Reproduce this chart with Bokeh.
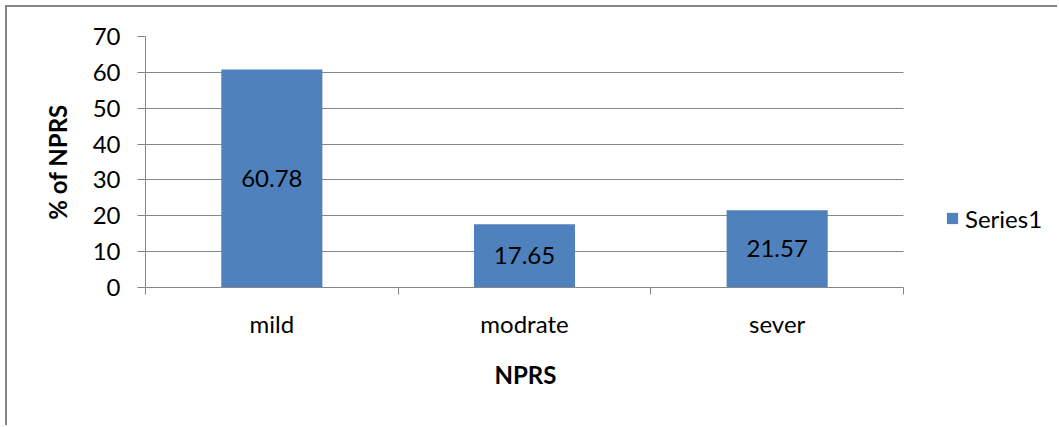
from bokeh.plotting import figure
from bokeh.models import (Range1d, FixedTicker, Legend, LegendItem,
                          ColumnDataSource, LabelSet, Title)
from bokeh.core.properties import value
from bokeh.embed import file_html
from bokeh.resources import INLINE

# ---- data ----
categories = ["mild", "modrate", "sever"]
percent = [60.78, 17.65, 21.57]
y_ticks = [0, 10, 20, 30, 40, 50, 60, 70]
series_name = "Series1"
x_title = "NPRS"
y_title = "% of NPRS"

FONT = "Lato"
GRAY = "#868686"
BAR = "#4F81BD"
FS = "24px"

# layout (pixels): plot area 758 px wide, extra room on its right for legend
AREA_W = 758
FIG_W, FIG_H = 1052, 420
LEFT, TOP, BOTTOM = 138, 29, 140
FRAME_W = FIG_W - LEFT

n = len(categories)
centers = [i + 0.5 for i in range(n)]
src = ColumnDataSource(dict(
    x=centers,
    top=percent,
    mid=[v / 2 for v in percent],
    label=[f"{v:.2f}" for v in percent],
))

x_end = n * FRAME_W / AREA_W
p = figure(width=FIG_W, height=FIG_H, output_backend="svg", toolbar_location=None,
           x_range=Range1d(0, x_end), y_range=Range1d(0, y_ticks[-1]),
           min_border_left=LEFT, min_border_right=0,
           min_border_top=TOP, min_border_bottom=BOTTOM)
p.outline_line_color = None
p.styles = {"margin-left": "5px", "margin-top": "5px",
            "border-left": "2px solid #868686", "border-top": "2px solid #868686"}

r = p.vbar(x="x", top="top", width=0.4, source=src,
           fill_color=BAR, line_color=None)

labels = LabelSet(x="x", y="mid", text="label", source=src,
                  text_align="center", text_baseline="middle",
                  text_font=value(FONT), text_font_size=FS,
                  text_color="black")
p.add_layout(labels)

# grid
p.xgrid.grid_line_color = None
p.ygrid.grid_line_color = GRAY
p.ygrid.grid_line_width = 1
p.ygrid.ticker = FixedTicker(ticks=y_ticks)
p.ygrid.cross_bounds = (0, n)

# y axis
ya = p.yaxis[0]
ya.ticker = FixedTicker(ticks=y_ticks)
ya.axis_line_color = GRAY
ya.major_tick_line_color = GRAY
ya.major_tick_out = 8
ya.major_tick_in = 0
ya.minor_tick_line_color = None
ya.major_label_text_font = FONT
ya.major_label_text_font_size = FS
ya.major_label_text_color = "black"
ya.major_label_standoff = 17
ya.axis_label = y_title
ya.axis_label_text_font = FONT
ya.axis_label_text_font_size = FS
ya.axis_label_text_font_style = "bold"
ya.axis_label_text_color = "black"
ya.axis_label_standoff = 18

# x axis: labels at category centers, boundary ticks as minor ticks
xa = p.xaxis[0]
xa.bounds = (0, n)
xa.ticker = FixedTicker(ticks=centers, minor_ticks=list(range(n + 1)))
xa.major_label_overrides = {c: lab for c, lab in zip(centers, categories)}
xa.axis_line_color = GRAY
xa.major_tick_line_color = None
xa.major_tick_out = 7
xa.major_tick_in = 0
xa.minor_tick_line_color = GRAY
xa.minor_tick_out = 7
xa.minor_tick_in = 0
xa.major_label_text_font = FONT
xa.major_label_text_font_size = FS
xa.major_label_text_color = "black"
xa.major_label_standoff = 14

# x-axis title, centred under the plot area (not under the legend room)
xt = Title(text=x_title, align="left", offset=349, standoff=34,
           text_font=FONT, text_font_size=FS, text_font_style="bold",
           text_color="black")
p.add_layout(xt, "below")

legend = Legend(items=[LegendItem(label=series_name, renderers=[r])],
                location=(800, 54), orientation="vertical",
                padding=0, margin=0, spacing=0,
                glyph_width=14, glyph_height=14, label_standoff=6,
                label_height=30,
                label_text_font=FONT, label_text_font_size=FS,
                label_text_color="black",
                border_line_color=None, background_fill_alpha=0)
p.add_layout(legend)

open("out.html", "w").write(file_html(p, INLINE))
